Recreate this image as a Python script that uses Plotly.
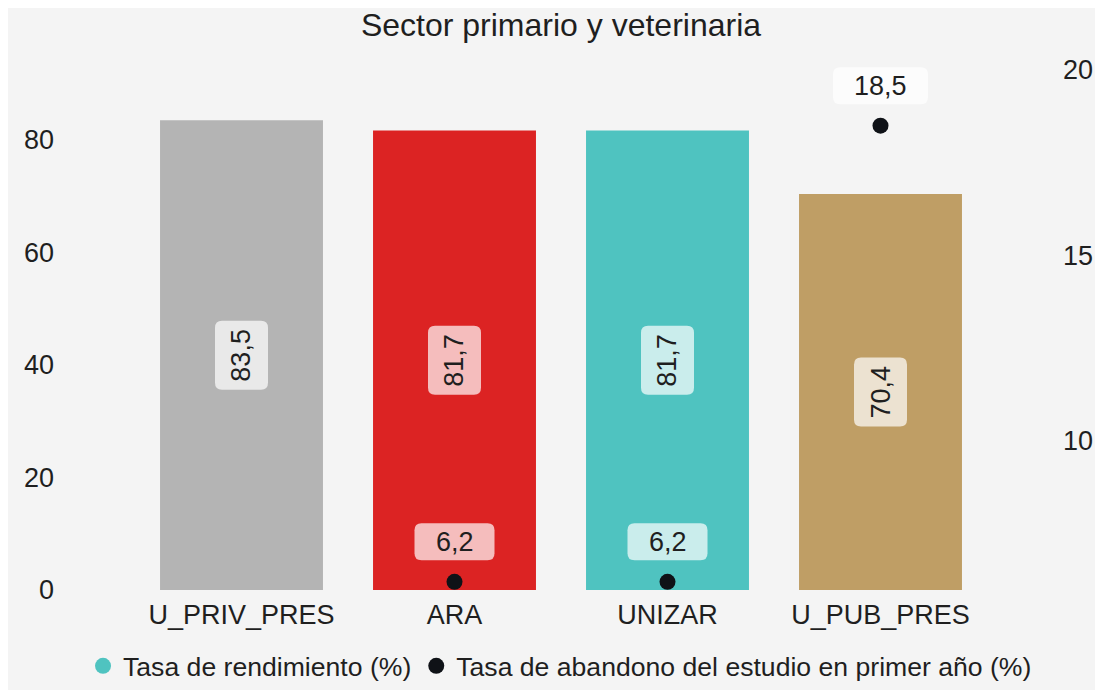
import plotly.graph_objects as go

categories = ["U_PRIV_PRES", "ARA", "UNIZAR", "U_PUB_PRES"]
rendimiento = [83.5, 81.7, 81.7, 70.4]
abandono = [None, 6.2, 6.2, 18.5]
bar_colors = ["#b4b4b4", "#dc2323", "#4fc3c0", "#bf9e65"]
left_ticks = [0, 20, 40, 60, 80]
right_ticks = [10, 15, 20]
chart_title = "Sector primario y veterinaria"
legend_names = ["Tasa de rendimiento (%)", "Tasa de abandono del estudio en primer año (%)"]

FONT = "Liberation Sans, Arial, sans-serif"
FS = 27
TXT = "#1f1f1f"
DOT = "#0f1217"
BG = "#f4f4f4"
LABEL_BG = "rgba(255,255,255,0.7)"


def fmt(v):
    return f"{v:.1f}".replace(".", ",")


def text_width(s, size):
    w = 0.0
    for ch in s:
        w += 0.278 if ch in ",." else 0.556
    return w * size


def rounded_box(cx, cy, w, h, r):
    x0, x1 = cx - w / 2, cx + w / 2
    y0, y1 = cy - h / 2, cy + h / 2
    return (f"M {x0 + r},{y0} L {x1 - r},{y0} Q {x1},{y0} {x1},{y0 + r} "
            f"L {x1},{y1 - r} Q {x1},{y1} {x1 - r},{y1} L {x0 + r},{y1} "
            f"Q {x0},{y1} {x0},{y1 - r} L {x0},{y0 + r} Q {x0},{y0} {x0 + r},{y0} Z")


fig = go.Figure()
fig.add_trace(go.Bar(
    x=categories, y=rendimiento, marker=dict(color=bar_colors, line=dict(width=0)),
    showlegend=False, hoverinfo="x+y", yaxis="y",
))
fig.add_trace(go.Scatter(
    x=categories, y=abandono, mode="markers", yaxis="y2",
    marker=dict(color=DOT, size=16), showlegend=False,
))
# legend entries
fig.add_trace(go.Scatter(x=[None], y=[None], mode="markers", name=legend_names[0],
                         marker=dict(color=bar_colors[2], size=18, symbol="circle")))
fig.add_trace(go.Scatter(x=[None], y=[None], mode="markers", name=legend_names[1],
                         marker=dict(color=DOT, size=18, symbol="circle")))

annotations = []
shapes = []
for c, v in zip(categories, rendimiento):
    s = fmt(v)
    shapes.append(dict(
        type="path", xref="x", yref="y", xsizemode="pixel", ysizemode="pixel",
        xanchor=c, yanchor=v / 2, path=rounded_box(0, 0, 53, round(text_width(s, FS)) + 16, 7),
        fillcolor=LABEL_BG, line=dict(width=0), layer="above",
    ))
    annotations.append(dict(
        x=c, y=v / 2, xref="x", yref="y", text=s, showarrow=False,
        textangle=-90, font=dict(family=FONT, size=FS, color=TXT),
    ))
for c, v in zip(categories, abandono):
    if v is None:
        continue
    s = fmt(v)
    shapes.append(dict(
        type="path", xref="x", yref="y2", xsizemode="pixel", ysizemode="pixel",
        xanchor=c, yanchor=v, path=rounded_box(0, 40, round(text_width(s, FS)) + 42, 37, 7),
        fillcolor=LABEL_BG, line=dict(width=0), layer="above",
    ))
    annotations.append(dict(
        x=c, y=v, xref="x", yref="y2", text=s, showarrow=False, yshift=40,
        font=dict(family=FONT, size=FS, color=TXT),
    ))

fig.update_layout(
    width=1095, height=682,
    margin=dict(l=127, r=116, t=52, b=100, autoexpand=False),
    paper_bgcolor=BG, plot_bgcolor=BG,
    separators=",.",
    font=dict(family=FONT, size=FS, color=TXT),
    title=dict(text=chart_title, x=0.5, xref="paper", xanchor="center",
               y=1 - 17 / 682, yanchor="middle",
               font=dict(family=FONT, size=32, color=TXT)),
    bargap=0.235,
    xaxis=dict(range=[-0.5, 3.5], showgrid=False, zeroline=False, showline=False,
               tickfont=dict(size=FS), ticklabelstandoff=6, automargin=False),
    yaxis=dict(range=[0, 94.22], tickvals=left_ticks, showgrid=False, zeroline=False,
               showline=False, ticklabelstandoff=80, tickfont=dict(size=FS), automargin=False),
    yaxis2=dict(range=[5.98, 20.27], tickvals=right_ticks, overlaying="y", side="right",
                showgrid=False, zeroline=False, showline=False, ticklabelstandoff=75,
                tickfont=dict(size=FS), automargin=False),
    legend=dict(orientation="h", x=-0.061, xanchor="left", y=-0.1434, yanchor="middle",
                font=dict(size=26.6), bgcolor="rgba(0,0,0,0)"),
    annotations=annotations,
    shapes=shapes,
)

fig.write_html("out.html")
